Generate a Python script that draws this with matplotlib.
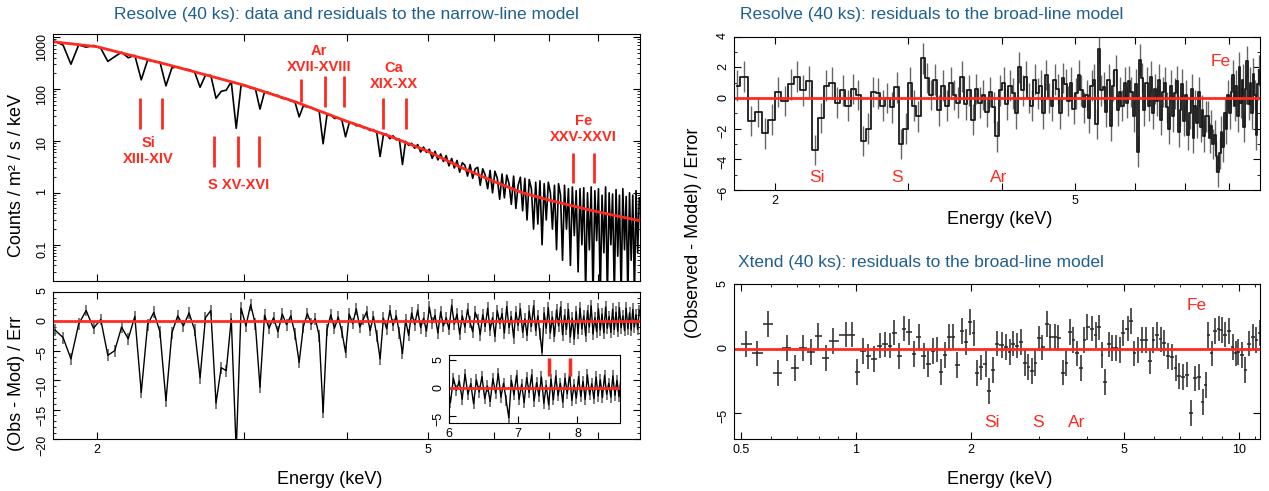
import numpy as np
import matplotlib
matplotlib.use('Agg')
import matplotlib.pyplot as plt
from matplotlib.ticker import FixedLocator, FixedFormatter, NullLocator, NullFormatter, MultipleLocator

plt.rcParams['font.family'] = ['Liberation Sans', 'DejaVu Sans']

TITLE_COLOR = '#1f5f8e'
RED = '#ff2a1f'

# --- Resolve spectrum, narrow-line model (bins start at 1.78 keV, 0.04 keV wide) ---
res_e0 = 1.78
res_de = 0.04

res_counts = [
    830, 700, 300, 705, 640, 690, 610, 340, 420, 510,
    400, 445, 150, 360, 340, 330, 115, 255, 268, 240,
    236, 212, 108, 185, 183, 66, 90, 95, 138, 17.5,
    118, 116, 104, 102, 41, 88, 85, 77, 75, 66,
    65, 59, 56, 29, 47, 45, 44, 40, 37, 8.8,
    31, 32, 27, 28, 25, 12, 22, 22.5, 19.5, 20.2,
    18, 17.9, 15.8, 16.5, 14.2, 5.0, 13, 13.5, 11, 12.5,
    10.5, 10.8, 3.5, 9.8, 8.2, 9.0, 7.2, 8.5, 6.1, 7.6,
    6.0, 6.9, 4.6, 6.3, 4.3, 5.6, 4.0, 5.2, 3.3, 4.6,
    3.0, 4.2, 2.5, 3.8, 3.4, 2.1, 3.5, 1.9, 2.9, 3.1,
    1.4, 2.9, 2.2, 1.2, 2.7, 1.0, 2.6, 1.9, 0.75, 2.3,
    0.8, 2.2, 1.5, 0.6, 2.1, 0.5, 1.4, 2.0, 0.45, 1.9,
    0.3, 1.8, 1.2, 0.2, 1.6, 0.25, 1.7, 0.1, 1.5, 0.3,
    1.6, 1.0, 0.2, 1.4, 0.08, 1.5, 0.9, 0.05, 1.4, 0.2,
    1.2, 0.04, 1.3, 0.15, 1.1, 0.03, 1.2, 0.1, 1.25, 0.012,
    1.0, 0.08, 1.3, 0.01, 1.1, 0.12, 1.2, 0.01, 0.9, 0.07,
    1.3, 0.01, 1.0, 0.1, 0.95, 0.01, 1.15, 0.06, 0.9, 0.01,
    1.2, 0.08, 0.85, 0.01, 1.0, 0.05, 0.9, 0.01, 1.1, 0.07, 0.8,
]

res_resid = [
    -1.5, -2.8, -6.4, -0.5, 1.8, -1.2, 0.3, -5.8, -5.0, -1.0,
    -3.0, 0.8, -12.1, -0.6, 1.5, -1.8, -13.5, -2.0, 0.9, -0.8,
    1.4, -1.5, -9.6, 0.6, 1.8, -13.9, -7.9, -8.4, 0.4, -22.0,
    2.2, -0.8, 2.8, -0.5, -11.2, 1.0, -1.2, 0.6, -1.8, 1.2,
    -0.6, 0.9, -2.2, -7.0, -1.0, 1.3, -0.5, 0.4, -2.5, -15.5,
    -1.5, 1.1, -1.2, 0.7, -1.8, -5.3, 1.2, -0.4, 2.1, -1.0,
    0.3, 1.6, -1.6, 0.8, -2.5, -6.4, 0.5, -1.3, 1.8, -0.7,
    0.9, -2.0, -5.5, 0.2, -2.4, 1.4, -0.6, 1.9, -1.1, 0.5,
    -1.7, 2.4, -0.3, 1.0, -2.0, 1.6, -0.8, 0.6, -1.4, 2.7,
    -0.5, 1.2, -2.2, 0.9, -1.0, 2.0, -0.2, -1.8, 1.5, 0.3,
    -2.3, 1.1, -0.9, 2.2, -1.5, 0.6, -2.6, 1.8, -0.4, 1.3,
    -2.0, 2.5, -1.1, 0.8, -2.8, 1.5, -0.7, 2.1, -1.9, 0.4,
    -2.4, 1.7, -0.9, 2.6, -1.6, 0.9, -2.2, -5.3, 1.4, -1.2,
    2.3, -2.0, 0.7, -2.6, 1.9, -0.8, 2.4, -2.3, 1.0, -1.4,
    2.0, -2.7, 0.5, -3.0, 1.6, -2.1, 2.2, -1.3, 0.9, -2.5,
    1.8, -1.0, 2.6, -2.2, 0.6, -1.8, 2.1, -1.5, 1.2, -2.0,
    2.4, -1.2, 0.8, -1.9, 2.0, -1.4, 1.5, -1.7, 2.3, -1.1,
    0.9, -1.6, 2.2, -1.3, 1.4, -1.5, 2.0, -1.0, 1.1, -1.4, 1.8,
]

# continuum model (keV, counts / m2 / s / keV)
model_energy = [1.77, 2.0, 2.44, 3.0, 3.46, 4.0, 4.5, 5.0, 5.5, 6.0, 6.5, 7.0, 7.5, 8.0, 8.5, 9.0]
model_counts = [813, 651, 290, 119, 57, 23.6, 12.3, 6.3, 3.0, 1.66, 1.0, 0.72, 0.55, 0.43, 0.35, 0.29]

# line markers in the spectrum panel (keV)
si_lines = [2.255, 2.396]
s_lines = [2.767, 2.957, 3.128]
ar_lines = [3.52, 3.757, 3.96]
ca_lines = [4.418, 4.70]
fe_lines = [7.48, 7.92]
fe_inset_lines = [7.50, 7.86]

# --- Resolve residuals to the broad-line model (1.78 keV start, 0.04 keV bins) ---
broad_e0 = 1.78
broad_de = 0.04
broad_resid = [
    0.8, 1.4, -1.5, -0.9, -2.3, -1.4, 0.4, -0.2, 0.9, 1.4,
    0.5, 1.1, -3.4, -1.3, 0.8, 1.0, -0.3, 0.5, -0.5, 0.6,
    0.2, -2.8, -2.0, 0.4, 0.3, -0.5, 0.0, -0.6, 0.7, -3.0,
    -2.0, 1.0, -0.5, -1.2, 2.6, 1.3, 0.2, 1.2, -0.8, 0.8,
    -0.5, 1.0, 0.2, -0.3, 1.4, -0.4, 0.5, -1.4, 0.6, -0.3,
    0.2, -0.9, 0.4, -0.6, -2.5, 0.5, 1.0, -0.4, 0.8, 0.3,
    -1.0, 2.0, 0.5, 1.4, 0.0, -0.5, 1.2, 0.3, 0.8, -1.0,
    1.5, 0.0, -0.5, 1.2, 0.6, -1.0, 1.3, 0.9, -0.2, 1.0,
    -0.7, 0.3, 1.5, 0.5, -0.6, 0.2, -1.3, 0.8, 1.2, -1.7,
    3.2, 0.5, 0.7, -0.9, 1.2, -1.8, 0.8, 1.8, -0.8, 0.4,
    -0.5, 1.0, -0.3, 1.1, 0.4, -1.2, 0.9, -3.5, 2.5, 1.3,
    -0.8, 1.0, -0.5, 1.4, -1.0, 0.6, -0.2, 1.2, -1.4, 0.4,
    1.0, -0.6, -2.0, 0.8, -1.2, 0.3, 1.1, -2.2, -0.8, 0.9,
    -1.5, 0.2, -2.4, -1.0, 0.6, -2.6, -0.5, -1.6, 0.4, -1.9,
    -0.8, -2.5, -1.2, -1.2, -2.6, -1.8, -3.0, -2.4, -3.8, -4.8,
    -3.6, -2.2, -3.2, -1.0, -2.0, 0.2, -1.0, 0.4, 1.5, -0.5,
    0.8, -1.2, 2.0, -0.3, 1.2, -1.9, 0.6, 2.4, -0.4, 1.0,
    -1.0, 1.6, 0.2, -2.4, 0.9, 1.8,
]

# --- Xtend residuals to the broad-line model ---
xtend_energy = [
    0.517, 0.553, 0.588, 0.624, 0.662, 0.694, 0.729, 0.764, 0.796, 0.834,
    0.870, 0.941, 0.975, 1.009, 1.044, 1.077, 1.114, 1.153, 1.193, 1.228,
    1.256, 1.296, 1.335, 1.375, 1.419, 1.458, 1.505, 1.546, 1.589, 1.628,
    1.666, 1.711, 1.750, 1.790, 1.839, 1.894, 1.937, 1.982, 2.027, 2.073,
    2.121, 2.179, 2.229, 2.279, 2.337, 2.401, 2.461, 2.518, 2.569, 2.628,
    2.694, 2.762, 2.818, 2.883, 2.935, 3.009, 3.064, 3.148, 3.219, 3.308,
    3.376, 3.469, 3.540, 3.620, 3.695, 3.779, 3.865, 3.944, 4.016, 4.127,
    4.221, 4.317, 4.386, 4.466, 4.568, 4.673, 4.780, 4.889, 4.977, 5.115,
    5.23, 5.33, 5.45, 5.57, 5.70, 5.86, 5.96, 6.10, 6.24, 6.38,
    6.53, 6.68, 6.83, 6.98, 7.14, 7.31, 7.51, 7.68, 7.85, 8.03,
    8.18, 8.31, 8.50, 8.64, 8.84, 9.00, 9.20, 9.41, 9.63, 9.80,
    9.95, 10.18, 10.37, 10.61, 10.85, 11.10, 11.35,
]
xtend_resid = [
    0.36, -0.36, 1.9, -1.9, 0.08, -1.5, 0.08, -0.23, 1.0, -0.7,
    0.6, 1.1, 1.1, -1.8, -0.2, -0.6, -0.8, 0.25, 0.33, 0.25,
    1.26, -0.57, 1.57, 1.3, -0.4, 0.9, -0.57, -1.2, -0.15, -0.05,
    -1.8, -0.5, 0.9, 0.95, -1.26, 1.4, 0.5, 2.1, 1.25, -1.9,
    -1.45, -1.2, -3.3, -1.65, 0.4, 0.3, 0.15, -0.25, 0.4, 0.25,
    0.55, -1.13, -1.4, -1.7, -1.1, 0.8, 0.1, 1.9, 0.9, 0.95,
    0.85, -1.85, -1.1, 1.3, 0.7, -0.36, -1.5, 0.67, 1.7, 1.57,
    1.05, 1.65, -0.46, -2.55, 0.33, 0.08, 0.08, -0.1, 1.24, 1.57,
    2.16, -0.36, -0.1, 0.7, 0.7, -0.93, 0.67, 1.05, 0.72, 0.46,
    -0.57, -0.62, -1.5, -2.1, -2.2, -2.0, -5.0, -2.3, -2.2, -4.1,
    -2.8, 1.05, -0.36, 1.4, 1.57, 1.44, 1.1, 1.4, 0.15, -0.36,
    -0.23, -0.5, -1.65, 0.4, 0.93, 0.67, 1.24,
]


def style_axes(ax):
    ax.tick_params(which='both', direction='in', top=True, right=True, labelsize=9)
    ax.tick_params(which='major', length=5)
    ax.tick_params(which='minor', length=2.5)
    ax.tick_params(axis='y', labelrotation=90)


def resolve_xaxis(ax, labels=True):
    ax.set_xscale('log')
    ax.xaxis.set_major_locator(FixedLocator([2, 3, 4, 5, 6, 7, 8]))
    ax.xaxis.set_minor_locator(NullLocator())
    if labels:
        ax.xaxis.set_major_formatter(FixedFormatter(['2', '', '', '5', '', '', '']))
    else:
        ax.xaxis.set_major_formatter(NullFormatter())


res_energy = res_e0 + res_de * np.arange(len(res_counts))
broad_energy = broad_e0 + broad_de * np.arange(len(broad_resid))

fig = plt.figure(figsize=(12.69, 4.91), dpi=100)

ax1 = fig.add_axes([0.0418, 0.4277, 0.4626, 0.5024])
ax2 = fig.add_axes([0.0418, 0.1059, 0.4626, 0.3000])
ax3 = fig.add_axes([0.5783, 0.6130, 0.4147, 0.3122])
ax4 = fig.add_axes([0.5783, 0.1059, 0.4147, 0.3151])
axin = fig.add_axes([0.3538, 0.1391, 0.1348, 0.1373])

# spectrum
ax1.plot(res_energy, res_counts, color='black', lw=1.2)
ax1.plot(model_energy, model_counts, color=RED, lw=2)
ax1.set_yscale('log')
resolve_xaxis(ax1, labels=False)
ax1.set_xlim(1.77, 9.0)
ax1.set_ylim(0.02, 1130)
ax1.set_yticks([0.1, 1, 10, 100, 1000])
ax1.set_yticklabels(['0.1', '1', '10', '100', '1000'])
style_axes(ax1)

tr = ax1.get_xaxis_transform()
mk = dict(color=RED, lw=2)
ax1.vlines(si_lines, 0.616, 0.742, transform=tr, **mk)
ax1.vlines(s_lines, 0.462, 0.588, transform=tr, **mk)
ax1.vlines(ar_lines, [0.726, 0.705, 0.705], [0.819, 0.831, 0.831], transform=tr, **mk)
ax1.vlines(ca_lines, 0.616, 0.742, transform=tr, **mk)
ax1.vlines(fe_lines, 0.397, 0.519, transform=tr, **mk)
lab = dict(color=RED, fontsize=10.5, fontweight='bold', ha='center', va='center',
           transform=tr, family=['Liberation Sans Narrow', 'Liberation Sans'])
ax1.text(2.304, 0.559, 'Si', **lab)
ax1.text(2.304, 0.495, 'XIII-XIV', **lab)
ax1.text(2.96, 0.389, 'S XV-XVI', **lab)
ax1.text(3.70, 0.934, 'Ar', **lab)
ax1.text(3.70, 0.869, 'XVII-XVIII', **lab)
ax1.text(4.55, 0.863, 'Ca', **lab)
ax1.text(4.55, 0.798, 'XIX-XX', **lab)
ax1.text(7.69, 0.648, 'Fe', **lab)
ax1.text(7.69, 0.584, 'XXV-XXVI', **lab)

# residuals to narrow-line model
for ax in (ax2, axin):
    ax.errorbar(res_energy, res_resid, yerr=1, fmt='none', ecolor='0.35', elinewidth=1.1)
    ax.plot(res_energy, res_resid, color='black', lw=1.0)
    ax.axhline(0, color=RED, lw=2)
resolve_xaxis(ax2)
ax2.set_xlim(1.77, 9.0)
ax2.set_ylim(-20, 5)
ax2.set_yticks([-20, -15, -10, -5, 0, 5])
ax2.yaxis.set_minor_locator(MultipleLocator(1))
style_axes(ax2)

axin.set_xscale('log')
axin.set_xlim(6, 8.8)
axin.set_ylim(-6.2, 5.9)
axin.xaxis.set_major_locator(FixedLocator([6, 7, 8]))
axin.xaxis.set_major_formatter(FixedFormatter(['6', '7', '8']))
axin.xaxis.set_minor_locator(NullLocator())
axin.set_yticks([-5, 0, 5])
axin.vlines(fe_inset_lines, 2.1, 5.4, color=RED, lw=2.5)
style_axes(axin)
axin.tick_params(which='both', top=False, right=False)

# Resolve residuals to broad-line model
ax3.errorbar(broad_energy, broad_resid, yerr=1, fmt='none', ecolor='0.4', elinewidth=1.0)
ax3.step(broad_energy, broad_resid, where='mid', color='0.1', lw=1.3)
ax3.axhline(0, color=RED, lw=2)
resolve_xaxis(ax3)
ax3.set_xlim(1.764, 8.8)
ax3.set_ylim(-6, 4)
ax3.set_yticks([-6, -4, -2, 0, 2, 4])
ax3.yaxis.set_minor_locator(MultipleLocator(1))
style_axes(ax3)
rl = dict(color=RED, fontsize=12.5, ha='center', va='center')
ax3.text(2.27, -5.2, 'Si', **rl)
ax3.text(2.90, -5.2, 'S', **rl)
ax3.text(3.96, -5.2, 'Ar', **rl)
ax3.text(7.81, 2.4, 'Fe', **rl)

# Xtend residuals
xt_e = np.array(xtend_energy)
mid = np.sqrt(xt_e[:-1] * xt_e[1:])
lo = np.concatenate([[xt_e[0] ** 2 / mid[0]], mid])
hi = np.concatenate([mid, [xt_e[-1] ** 2 / mid[-1]]])
ax4.errorbar(xt_e, xtend_resid, xerr=[xt_e - lo, hi - xt_e], yerr=1, fmt='none',
             ecolor='0.15', elinewidth=1.1)
ax4.axhline(0, color=RED, lw=2)
ax4.set_xscale('log')
ax4.set_xlim(0.48, 11.35)
ax4.set_ylim(-7, 5)
ax4.xaxis.set_major_locator(FixedLocator([0.5, 1, 2, 5, 10]))
ax4.xaxis.set_major_formatter(FixedFormatter(['0.5', '1', '2', '5', '10']))
ax4.xaxis.set_minor_locator(FixedLocator([0.6, 0.7, 0.8, 0.9, 3, 4, 6, 7, 8, 9, 11]))
ax4.xaxis.set_minor_formatter(NullFormatter())
ax4.set_yticks([-5, 0, 5])
style_axes(ax4)
ax4.text(2.27, -5.72, 'Si', **rl)
ax4.text(2.99, -5.72, 'S', **rl)
ax4.text(3.77, -5.72, 'Ar', **rl)
ax4.text(7.77, 3.38, 'Fe', **rl)

# titles and axis labels
W, H = 1269.0, 491.0
fig.text(346.5 / W, 1 - 15 / H, 'Resolve (40 ks): data and residuals to the narrow-line model',
         ha='center', va='center', color=TITLE_COLOR, fontsize=12.5)
fig.text(740 / W, 1 - 15 / H, 'Resolve (40 ks): residuals to the broad-line model',
         ha='left', va='center', color=TITLE_COLOR, fontsize=12.5)
fig.text(738 / W, 1 - 263 / H, 'Xtend (40 ks): residuals to the broad-line model',
         ha='left', va='center', color=TITLE_COLOR, fontsize=12.5)

fig.text(17 / W, 1 - 176 / H, 'Counts / m² / s / keV', rotation=90, ha='center', va='center', fontsize=13)
fig.text(17 / W, 1 - 383 / H, '(Obs - Mod) / Err', rotation=90, ha='center', va='center', fontsize=13)
fig.text(693 / W, 1 - 233 / H, '(Observed - Model) / Error', rotation=90, ha='center', va='center', fontsize=13)
fig.text(330 / W, 1 - 480 / H, 'Energy (keV)', ha='center', va='center', fontsize=13)
fig.text(999.5 / W, 1 - 220 / H, 'Energy (keV)', ha='center', va='center', fontsize=13)
fig.text(999.5 / W, 1 - 480 / H, 'Energy (keV)', ha='center', va='center', fontsize=13)

fig.savefig('out.png', dpi=100)
